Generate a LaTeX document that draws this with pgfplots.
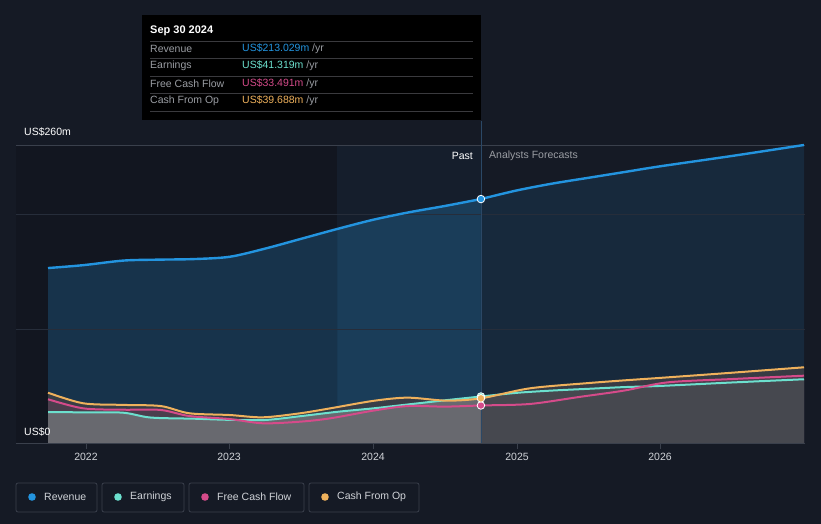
\documentclass[border=0pt]{standalone}
\usepackage{pgfplots}
\pgfplotsset{compat=1.18}
\usepackage{pgfplotstable}
\usepackage{fontspec}
\setmainfont{Liberation Sans}

\definecolor{bg}{HTML}{151A25}
\definecolor{rev}{HTML}{2394DF}
\definecolor{earn}{HTML}{6CE0CE}
\definecolor{fcf}{HTML}{D54B8A}
\definecolor{cfo}{HTML}{EFB15C}
\definecolor{gridc}{HTML}{262D3A}
\definecolor{axisln}{HTML}{3A404C}
\definecolor{pastfill}{HTML}{17334B}
\definecolor{boxfill}{HTML}{1A3D59}
\definecolor{futfill}{HTML}{17293C}
\definecolor{txt}{HTML}{D0D3D8}
\definecolor{lbl}{HTML}{9A9DA3}
\definecolor{sep}{HTML}{3A3A3E}
\definecolor{lowpast}{HTML}{68696F}
\definecolor{lowfut}{HTML}{46484F}
\definecolor{midfill}{HTML}{3E3F45}
\definecolor{vline}{HTML}{2B4866}

\pgfplotstableread{
x y
2021.735 153
2021.98 155.5
2022.26 159.5
2022.5 160.3
2022.75 160.8
2023.0 162.8
2023.25 170
2023.5 178.5
2023.75 187
2024.0 195
2024.25 201.5
2024.5 207
2024.75 213.0
}\revpast

\pgfplotstableread{
x y
2023.75 187
2024.0 195
2024.25 201.5
2024.5 207
2024.75 213.0
}\revbox

\pgfplotstableread{
x y
2024.75 213.0
2025.0 220.5
2025.25 226.5
2025.5 231.5
2025.75 236.5
2026.0 241.5
2026.5 250.5
2027.0 260
}\revfut

\pgfplotstableread{
x y
2021.735 27.8
2022.0 27.5
2022.26 27.2
2022.45 23
2022.75 22
2023.0 21
2023.25 20.9
2023.5 24.3
2023.75 28
2024.0 31
2024.25 34.5
2024.5 38
2024.75 41.3
2025.0 44.5
2025.25 46.5
2025.5 48
2025.75 49.5
2026.0 50.5
2026.5 53.5
2027.0 56.3
}\earn

\pgfplotstableread{
x y
2021.735 27.8
2022.0 27.5
2022.26 27.2
2022.45 23
2022.75 22
2023.0 21
2023.25 20.9
2023.5 24.3
2023.75 28
2024.0 31
2024.25 34.5
2024.5 38
2024.75 41.3
}\earnpast

\pgfplotstableread{
x y
2024.75 41.3
2025.0 44.5
2025.25 46.5
2025.5 48
2025.75 49.5
2026.0 50.5
2026.5 53.5
2027.0 56.3
}\earnfut

\pgfplotstableread{
x y
2021.735 38.9
2021.98 31
2022.26 29.8
2022.52 29.6
2022.72 24.3
2023.0 21.7
2023.23 18
2023.49 19.4
2023.7 22.3
2024.0 29
2024.24 33
2024.5 32.5
2024.75 33.5
2025.09 34.8
2025.44 41
2025.75 46.5
2026.05 53.6
2026.5 56.5
2027.0 59.4
}\fcf

\pgfplotstableread{
x y
2021.735 44.6
2021.98 35.4
2022.26 34
2022.52 33
2022.72 26.7
2023.0 25.2
2023.23 23.2
2023.49 26.7
2023.7 31
2024.0 37.5
2024.24 40.3
2024.51 37.7
2024.75 39.7
2025.09 48.4
2025.5 53
2025.79 55.7
2026.0 57.5
2026.5 62
2027.0 66.7
}\cfo

\begin{document}
\begin{tikzpicture}[font=\fontsize{10.5}{12}\selectfont]
\fill[bg] (0pt,0pt) rectangle (821pt,524pt);
\begin{axis}[
  at={(16pt,80pt)}, anchor=south west,
  scale only axis, width=789pt, height=299pt,
  xmin=2021.512, xmax=2027.007, ymin=0, ymax=260,
  axis lines=none, ticks=none, clip=false,
]
% slightly darker past background
\fill[black, opacity=0.12] (axis cs:2021.512,0) rectangle (axis cs:2023.75,260);
% highlight box
\fill[rev, opacity=0.04] (axis cs:2023.75,0) rectangle (axis cs:2024.75,260);
% revenue fills
\addplot[draw=none, fill=pastfill, smooth] table {\revpast} \closedcycle;
\addplot[draw=none, fill=boxfill, smooth] table {\revbox} \closedcycle;
\addplot[draw=none, fill=futfill, smooth] table {\revfut} \closedcycle;
% grid
\draw[gridc, line width=0.8pt] (axis cs:2021.512,100) -- (axis cs:2027.007,100);
\draw[gridc, line width=0.8pt] (axis cs:2021.512,200) -- (axis cs:2027.007,200);
\draw[axisln, line width=0.8pt] (axis cs:2021.512,260) -- (axis cs:2027.007,260);
% lower fills
\addplot[draw=none, fill=midfill, fill opacity=0.85, smooth] table {\cfo} \closedcycle;
\addplot[draw=none, fill=fcf, fill opacity=0.12, smooth] table {\fcf} \closedcycle;
\addplot[draw=none, fill=lowpast, smooth] table {\earnpast} \closedcycle;
\addplot[draw=none, fill=lowfut, smooth] table {\earnfut} \closedcycle;
% vertical line
\draw[vline, line width=0.8pt] (axis cs:2024.75,0) -- (axis cs:2024.75,281);
% bottom axis
\draw[axisln, line width=1pt] (axis cs:2021.512,0) -- (axis cs:2027.007,0);
% lines
\addplot[earn, line width=2pt, smooth] table {\earn};
\addplot[fcf, line width=2pt, smooth] table {\fcf};
\addplot[cfo, line width=2pt, smooth] table {\cfo};
\addplot[rev, line width=2.4pt, smooth] table {\revpast};
\addplot[rev, line width=2.4pt, smooth] table {\revfut};
% markers
\addplot[only marks, mark=*, mark size=3.8pt, mark options={fill=earn, draw=white, line width=0.8pt}] coordinates {(2024.75,41.3)};
\addplot[only marks, mark=*, mark size=3.8pt, mark options={fill=fcf, draw=white, line width=0.8pt}] coordinates {(2024.75,33.5)};
\addplot[only marks, mark=*, mark size=3.8pt, mark options={fill=cfo, draw=white, line width=0.8pt}] coordinates {(2024.75,39.7)};
\addplot[only marks, mark=*, mark size=3.8pt, mark options={fill=rev, draw=white, line width=0.8pt}] coordinates {(2024.75,213.0)};
\end{axis}
% x ticks and labels (pixel positions)
\foreach \px/\yr in {86/2022,229/2023,373/2024,517/2025,660/2026}{
  \draw[axisln, line width=1pt] (\px pt,80pt) -- (\px pt,75pt);
  \node[txt, anchor=center] at (\px pt,67pt) {\yr};
}
% past / forecast labels
\node[white, anchor=east, inner sep=0pt] at (473pt,368pt) {Past};
\node[lbl, anchor=west, inner sep=0pt] at (489pt,368pt) {Analysts Forecasts};
% y labels
\node[white, anchor=west, inner sep=0pt] at (24pt,392pt) {US\$260m};
\node[white, anchor=west, inner sep=0pt] at (24pt,92pt) {US\$0};
% tooltip
\fill[black] (142pt,509pt) rectangle (481pt,404pt);
\node[white, anchor=west, inner sep=0pt, font=\fontsize{11}{13}\selectfont\bfseries] at (150pt,493pt) {Sep 30 2024};
\foreach \yy in {483,466,448,431,413}{\draw[sep, line width=0.8pt] (150pt,\yy pt) -- (473pt,\yy pt);}
\node[lbl, anchor=west, inner sep=0pt] at (150pt,475pt) {Revenue};
\node[lbl, anchor=west, inner sep=0pt] at (150pt,458pt) {Earnings};
\node[lbl, anchor=west, inner sep=0pt] at (150pt,440pt) {Free Cash Flow};
\node[lbl, anchor=west, inner sep=0pt] at (150pt,423pt) {Cash From Op};
\node[anchor=west, inner sep=0pt] at (242pt,475pt) {\textcolor{rev}{US\$213.029m}\ \textcolor{lbl}{/yr}};
\node[anchor=west, inner sep=0pt] at (242pt,458pt) {\textcolor{earn}{US\$41.319m}\ \textcolor{lbl}{/yr}};
\node[anchor=west, inner sep=0pt] at (242pt,440pt) {\textcolor{fcf}{US\$33.491m}\ \textcolor{lbl}{/yr}};
\node[anchor=west, inner sep=0pt] at (242pt,423pt) {\textcolor{cfo}{US\$39.688m}\ \textcolor{lbl}{/yr}};
% legend
\foreach \a/\b/\c/\col/\name in {16/97/32/rev/Revenue, 102/184/118/earn/Earnings, 189/304/205/fcf/Free Cash Flow, 309/419/325/cfo/Cash From Op}{
  \draw[axisln, line width=0.8pt, rounded corners=2pt] (\a pt,12pt) rectangle (\b pt,41pt);
  \fill[\col] (\c pt,27pt) circle (3.8pt);
  \node[txt, anchor=west, inner sep=0pt] at (\c pt+12pt,27pt) {\name};
}
\end{tikzpicture}
\end{document}
